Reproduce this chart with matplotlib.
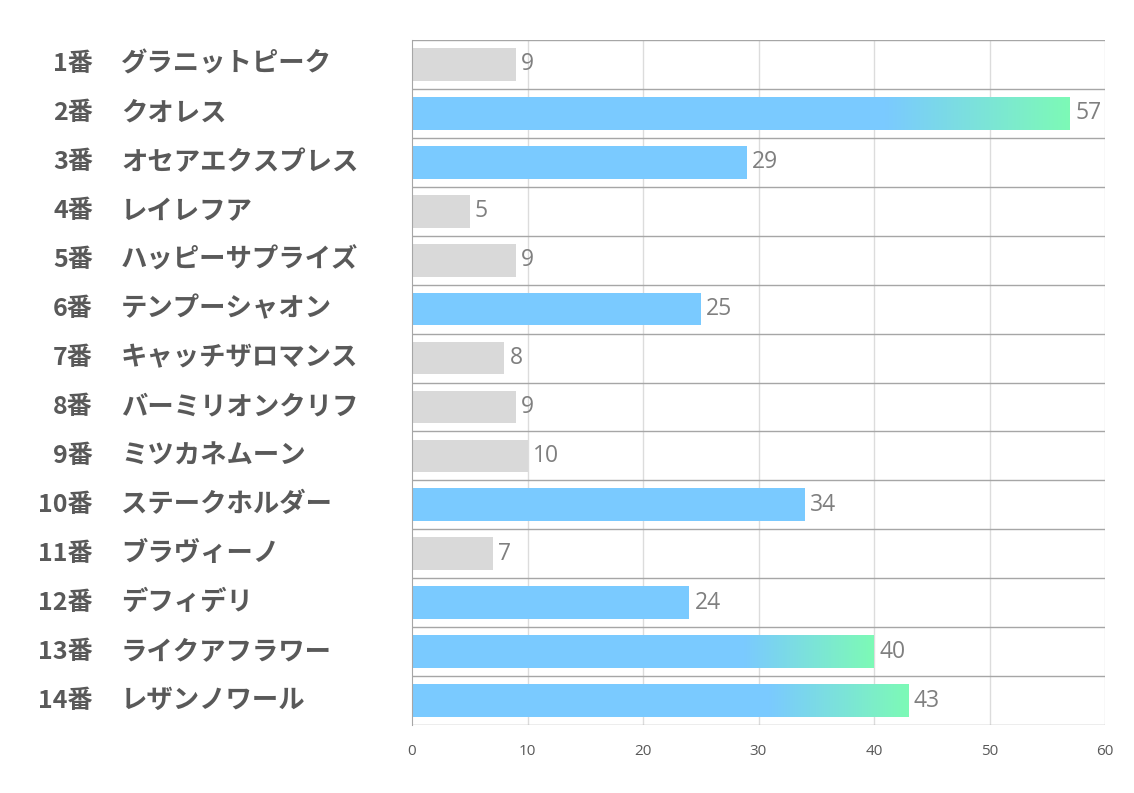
import numpy as np
import matplotlib
matplotlib.use("Agg")
import matplotlib.pyplot as plt
from matplotlib.colors import LinearSegmentedColormap
from matplotlib.transforms import blended_transform_factory

numbers = ["1番", "2番", "3番", "4番", "5番", "6番", "7番", "8番", "9番", "10番", "11番", "12番", "13番", "14番"]
names = ["グラニットピーク", "クオレス", "オセアエクスプレス", "レイレフア", "ハッピーサプライズ",
         "テンプーシャオン", "キャッチザロマンス", "バーミリオンクリフ", "ミツカネムーン",
         "ステークホルダー", "ブラヴィーノ", "デフィデリ", "ライクアフラワー", "レザンノワール"]
values = [9, 57, 29, 5, 9, 25, 8, 9, 10, 34, 7, 24, 40, 43]
# bar style: 0 = gray, 1 = blue, 2 = blue with green gradient
styles = [0, 2, 1, 0, 0, 1, 0, 0, 0, 1, 0, 1, 2, 2]
xticks = [0, 10, 20, 30, 40, 50, 60]

GRAY = "#D9D9D9"
BLUE = "#7ACAFF"
GREEN = "#7DFAB6"

plt.rcParams['font.family'] = ['Noto Sans CJK JP', 'DejaVu Sans']

fig = plt.figure(figsize=(11.34, 7.93), dpi=100)
ax = fig.add_axes([412/1134, 1-725/793, (1105-412)/1134, (725-40)/793])

n = len(values)
h = 0.67
cmap = LinearSegmentedColormap.from_list("bg", [BLUE, GREEN])
grad = np.linspace(0, 1, 256).reshape(1, -1)

for i, (v, s) in enumerate(zip(values, styles)):
    col = GRAY if s == 0 else BLUE
    if s == 2:
        ax.barh(i, v * 0.72, height=h, color=BLUE, zorder=2, linewidth=0)
        ax.imshow(grad, cmap=cmap, aspect='auto', interpolation='bilinear',
                  extent=[v * 0.72 - 0.05, v, i + h / 2, i - h / 2], zorder=2)
    else:
        ax.barh(i, v, height=h, color=col, zorder=2, linewidth=0)
    ax.text(v + 0.45, i, str(v), va='center', ha='left', fontsize=16.5,
            color="#7F7F7F", family=['Open Sans', 'DejaVu Sans'])

ax.set_xlim(0, 60)
ax.set_ylim(n - 0.5, -0.5)
ax.set_xticks(xticks)
ax.set_xticklabels([str(t) for t in xticks], fontsize=11, color="#595959",
                   family=['Open Sans', 'DejaVu Sans'])
ax.tick_params(axis='x', length=0, pad=14)
ax.set_yticks([])
for x in xticks[1:]:
    ax.axvline(x, color="#DCDCDC", lw=1, zorder=1)
for b in np.arange(-0.5, n, 1.0):
    ax.axhline(b, color="#A6A6A6", lw=1, zorder=3)
for sp in ['top', 'right', 'bottom']:
    ax.spines[sp].set_visible(False)
ax.spines['left'].set_color("#A6A6A6")
ax.spines['left'].set_zorder(3)

tr = blended_transform_factory(fig.transFigure, ax.transData)
for i in range(n):
    fig.text(93/1134, i, numbers[i], transform=tr, ha='right', va='center',
             fontsize=18, fontweight='bold', color="#595959")
    fig.text(121/1134, i, names[i], transform=tr, ha='left', va='center',
             fontsize=19, fontweight='bold', color="#595959")

fig.savefig("out.png", dpi=100)
